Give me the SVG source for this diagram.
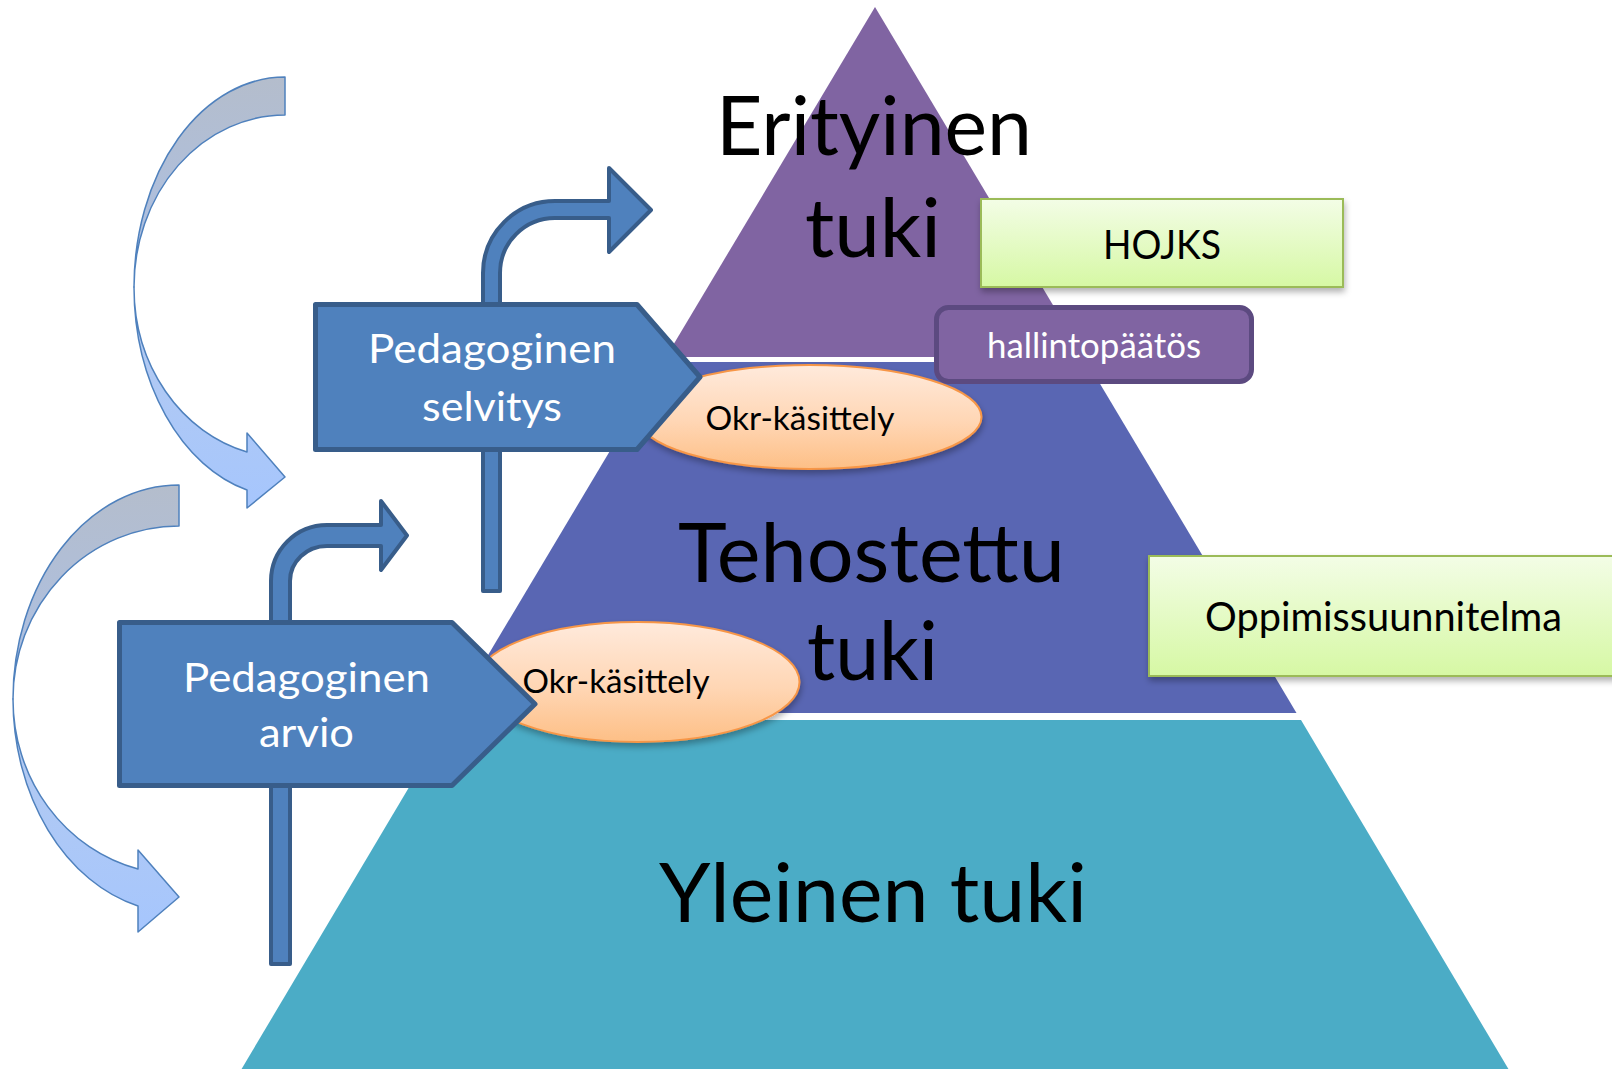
<svg xmlns="http://www.w3.org/2000/svg" width="1612" height="1069" viewBox="0 0 1612 1069">
<defs>
<style>
.big{font-family:Lato,'Open Sans',sans-serif;font-size:81px;fill:#000;text-anchor:middle}
.lbl{font-family:Lato,'Open Sans',sans-serif;text-anchor:middle}
.pent{fill:#4F81BD;stroke:#385D8A;stroke-width:5;stroke-linejoin:round}
.bent{fill:#4F81BD;stroke:#385D8A;stroke-width:4;stroke-linejoin:round}
.ell{fill:url(#gOrange);stroke:#F79646;stroke-width:2;filter:url(#sh)}
.green{fill:url(#gGreen);stroke:#9BBB59;stroke-width:2;filter:url(#sh)}
.cback{fill:url(#gGray);stroke:#4F81BD;stroke-width:1.5;stroke-linejoin:round}
.cfront{fill:url(#gBlue);stroke:#4F81BD;stroke-width:1.5;stroke-linejoin:round}
</style>
<linearGradient id="gOrange" x1="0" y1="0" x2="0" y2="1">
<stop offset="0" stop-color="#FFEADC"/><stop offset="0.55" stop-color="#FFD6B4"/><stop offset="1" stop-color="#FDBF86"/>
</linearGradient>
<linearGradient id="gGreen" x1="0" y1="0" x2="0" y2="1">
<stop offset="0" stop-color="#F3FDE6"/><stop offset="1" stop-color="#D6F8A4"/>
</linearGradient>
<linearGradient id="gGray" x1="0" y1="0" x2="0" y2="1">
<stop offset="0" stop-color="#B4BDCC"/><stop offset="1" stop-color="#ABC0E6"/>
</linearGradient>
<linearGradient id="gBlue" x1="0" y1="0" x2="0" y2="1">
<stop offset="0" stop-color="#B6CBEE"/><stop offset="1" stop-color="#A6C6FD"/>
</linearGradient>
<filter id="sh" x="-10%" y="-20%" width="130%" height="150%">
<feDropShadow dx="1" dy="4" stdDeviation="3" flood-color="#000" flood-opacity="0.3"/>
</filter>
</defs>
<rect width="1612" height="1069" fill="#FFFFFF"/>

<g id="pyramid">
<g id="tier-erityinen">
<polygon points="875,7 1084,357 666,357" fill="#8064A2"/>
<text class="big" x="874" y="155" textLength="316" lengthAdjust="spacingAndGlyphs">Erityinen</text>
<text class="big" x="873" y="257" textLength="136" lengthAdjust="spacingAndGlyphs">tuki</text>
</g>
<g id="tier-tehostettu">
<polygon points="663,362 1087,362 1296.5,713 453.5,713" fill="#5966B3"/>
<text class="big" x="871.5" y="582" textLength="387" lengthAdjust="spacingAndGlyphs">Tehostettu</text>
<text class="big" x="872.5" y="680" textLength="131" lengthAdjust="spacingAndGlyphs">tuki</text>
</g>
<g id="tier-yleinen">
<polygon points="449,720 1301,720 1512,1075 238,1075" fill="#4BACC6"/>
<text class="big" x="873" y="922" textLength="428" lengthAdjust="spacingAndGlyphs">Yleinen tuki</text>
</g>
</g>

<g id="connectors">
<path class="cback" d="M285,77 A151,210 0 0 0 134,287 A151,172 0 0 1 285,115 Z"/>
<path class="cfront" d="M134,287 A151,210 0 0 0 247,490 L247,508 L285,477 L247,433 L247,452 A151,170 0 0 1 134,287 Z"/>
<path class="cback" d="M179,485 A166,214 0 0 0 13,699 A166,173 0 0 1 179,526 Z"/>
<path class="cfront" d="M13,699 A166,214 0 0 0 138,906 L138,932 L179,897 L138,850 L138,869 A166,175 0 0 1 13,699 Z"/>
<path class="bent" d="M483,591 L483,273 A72,72 0 0 1 555,201 L609,201 L609,168 L651,210 L609,252 L609,218 L555,218 A55,55 0 0 0 500,273 L500,591 Z"/>
<path class="bent" d="M271,964 L271,581 A56,56 0 0 1 327,525 L381,525 L381,501 L407,535.5 L381,570 L381,546 L327,546 A37,35 0 0 0 290,581 L290,964 Z"/>
</g>

<g id="hojks">
<rect class="green" x="981" y="199" width="362" height="88"/>
<text class="lbl" x="1162" y="259" font-size="41" fill="#000" textLength="118" lengthAdjust="spacingAndGlyphs">HOJKS</text>
</g>

<g id="oppimissuunnitelma">
<rect class="green" x="1149" y="556" width="480" height="120"/>
<text class="lbl" x="1383.5" y="631" font-size="40" fill="#000" textLength="357" lengthAdjust="spacingAndGlyphs">Oppimissuunnitelma</text>
</g>

<g id="okr-1">
<ellipse class="ell" cx="809.5" cy="417" rx="172" ry="52"/>
<text class="lbl" x="800" y="430" font-size="33" fill="#000" textLength="189" lengthAdjust="spacingAndGlyphs">Okr-käsittely</text>
</g>

<g id="okr-2">
<ellipse class="ell" cx="637.5" cy="682" rx="162" ry="60"/>
<text class="lbl" x="616" y="693" font-size="33" fill="#000" textLength="187" lengthAdjust="spacingAndGlyphs">Okr-käsittely</text>
</g>

<g id="hallintopaatos">
<rect x="936.5" y="307.5" width="315" height="74" rx="12" ry="12" fill="#8064A2" stroke="#5C4A80" stroke-width="5"/>
<text class="lbl" x="1094" y="358" font-size="34" fill="#FFFFFF" textLength="214" lengthAdjust="spacingAndGlyphs">hallintopäätös</text>
</g>

<g id="pedagoginen-selvitys">
<polygon class="pent" points="315.5,304.5 637,304.5 700,377 637,449.5 315.5,449.5"/>
<text class="lbl" x="492" y="363" font-size="40" fill="#FFFFFF" textLength="248" lengthAdjust="spacingAndGlyphs">Pedagoginen</text>
<text class="lbl" x="492" y="421" font-size="40" fill="#FFFFFF" textLength="140" lengthAdjust="spacingAndGlyphs">selvitys</text>
</g>

<g id="pedagoginen-arvio">
<polygon class="pent" points="119.5,622.5 452,622.5 535,704 452,785.5 119.5,785.5"/>
<text class="lbl" x="306.5" y="692" font-size="40" fill="#FFFFFF" textLength="247" lengthAdjust="spacingAndGlyphs">Pedagoginen</text>
<text class="lbl" x="306.5" y="747" font-size="40" fill="#FFFFFF" textLength="95" lengthAdjust="spacingAndGlyphs">arvio</text>
</g>
</svg>
